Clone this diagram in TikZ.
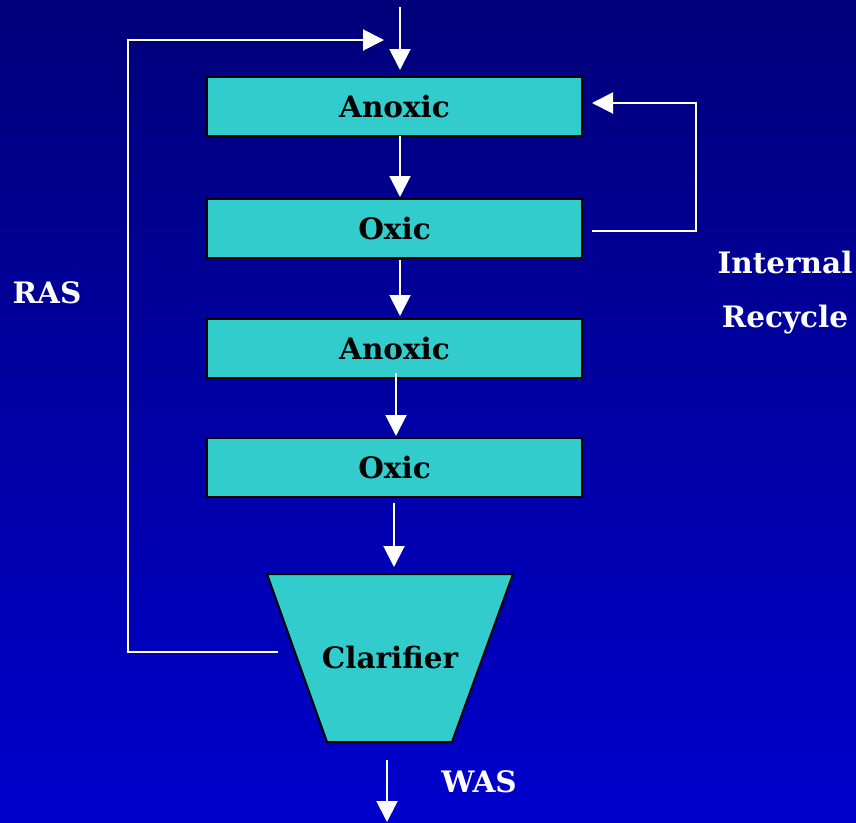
\documentclass[tikz,border=0pt]{standalone}
\usepackage{fontspec}
\setmainfont{DejaVu Serif}
\usetikzlibrary{arrows.meta,calc}
\definecolor{bgtop}{RGB}{0,0,122}
\definecolor{bgbot}{RGB}{0,0,204}
\definecolor{tank}{RGB}{51,204,204}
\begin{document}
\begin{tikzpicture}[x=1pt,y=-1pt,
  tankbox/.style={draw=black,line width=2pt,fill=tank,minimum width=375pt,minimum height=59pt,inner sep=0pt,font=\bfseries\fontsize{29.5}{34}\selectfont,text=black},
  flow/.style={draw=white,line width=2pt,-{Triangle[width=21pt,length=21pt]}},
  lbl/.style={text=white,font=\bfseries\fontsize{29.5}{34}\selectfont,inner sep=0pt}]
\shade[top color=bgtop,bottom color=bgbot] (0,0) rectangle (856,822);
\useasboundingbox (0,0) rectangle (856,822);
\node[tankbox] (an1) at (394.5,106.5) {Anoxic};
\node[tankbox] (ox1) at (394.5,228.5) {Oxic};
\node[tankbox] (an2) at (394.5,348.5) {Anoxic};
\node[tankbox] (ox2) at (394.5,467.5) {Oxic};
\filldraw[fill=tank,draw=black,line width=2pt] (267,574) -- (513,574) -- (452,742) -- (327,742) -- cycle;
\node[font=\bfseries\fontsize{29.5}{34}\selectfont,inner sep=0pt] (cl) at (390,657) {Clarifier};
% coordinates
\coordinate (inA) at (400,7);
\coordinate (inB) at (400,70);
\coordinate (rasS) at (278,652);
\coordinate (rasL) at (128,652);
\coordinate (rasT) at (128,40);
\coordinate (rasE) at (384,40);
\coordinate (irS) at (592,231);
\coordinate (irR) at (696,231);
\coordinate (irT) at (696,103);
\coordinate (irE) at (592,103);
\coordinate (wasA) at (387,760);
\coordinate (wasB) at (387,822);
\draw[flow] (inA) -- (inB);
\draw[flow] (rasS) -- (rasL) -- (rasT) -- (rasE);
\draw[flow] (irS) -- (irR) -- (irT) -- (irE);
\draw[flow] (400,136) -- (400,197);
\draw[flow] (400,260) -- (400,316);
\draw[flow] (396,373) -- (396,436);
\draw[flow] (394,503) -- (394,567);
\draw[flow] (wasA) -- (wasB);
\node[lbl] (ras) at (47,293) {RAS};
\node[lbl] (int) at (785,262) {Internal};
\node[lbl] (rec) at (785,320) {Recycle};
\node[lbl] (was) at (479,782) {WAS};
\end{tikzpicture}
\end{document}
